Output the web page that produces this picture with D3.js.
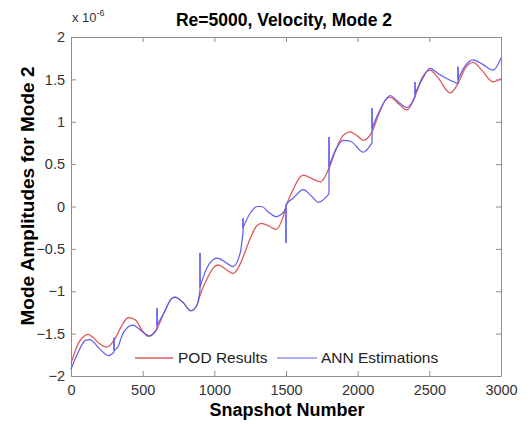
<!DOCTYPE html>
<html>
<head>
<meta charset="utf-8">
<script src="https://cdn.jsdelivr.net/npm/d3@7"></script>
<style>
  body { margin: 0; background: #fff; }
  svg { font-family: Arial, "Liberation Sans", sans-serif; }
</style>
</head>
<body>
<div class="chart"></div>
<script>
// POD results (red), values in units of 1e-6
var podSnap = [0, 50, 100, 120, 150, 200, 250, 300, 350, 400, 450, 500, 537, 600, 650, 700, 726, 780, 837, 880,
  900, 950, 1000, 1026, 1080, 1130, 1180, 1200, 1250, 1300, 1330, 1380, 1430, 1480, 1500, 1550, 1600, 1620, 1680,
  1740, 1800, 1850, 1900, 1947, 2000, 2040, 2100, 2150, 2200, 2226, 2280, 2345, 2400, 2450, 2505, 2560, 2645,
  2700, 2750, 2805, 2870, 2945, 3000];
var podVal = [-1.85, -1.62, -1.52, -1.51, -1.54, -1.62, -1.66, -1.58, -1.42, -1.31, -1.34, -1.47, -1.53, -1.44,
  -1.25, -1.09, -1.07, -1.13, -1.23, -1.16, -1.05, -0.85, -0.71, -0.69, -0.74, -0.79, -0.68, -0.6, -0.38, -0.22,
  -0.2, -0.23, -0.27, -0.12, 0.0, 0.2, 0.35, 0.37, 0.33, 0.29, 0.45, 0.68, 0.84, 0.88, 0.83, 0.78, 0.88, 1.1,
  1.27, 1.29, 1.22, 1.14, 1.3, 1.52, 1.61, 1.52, 1.34, 1.45, 1.63, 1.70, 1.6, 1.47, 1.51];

// ANN estimations (blue); repeated snapshot = jump at a block boundary
var annSnap = [0, 50, 100, 130, 200, 260, 300, 300, 300, 330, 350, 400, 430, 500, 550, 600, 600, 600, 650, 700,
  726, 780, 837, 880, 900, 900, 900, 950, 1020, 1080, 1130, 1180, 1200, 1200, 1200, 1250, 1300, 1330, 1380,
  1430, 1480, 1500, 1500, 1500, 1550, 1620, 1680, 1725, 1800, 1800, 1800, 1850, 1900, 1950, 2040, 2070,
  2100, 2100, 2100, 2150, 2200, 2226, 2280, 2345, 2400, 2400, 2400, 2450, 2505, 2560, 2645, 2700, 2700, 2700,
  2750, 2805, 2870, 2945, 3000];
var annVal = [-1.92, -1.72, -1.58, -1.57, -1.68, -1.76, -1.72, -1.55, -1.70, -1.65, -1.55, -1.42, -1.40, -1.48,
  -1.53, -1.45, -1.20, -1.40, -1.25, -1.09, -1.07, -1.13, -1.23, -1.16, -0.99, -0.55, -0.95, -0.72, -0.61,
  -0.66, -0.71, -0.55, -0.31, -0.14, -0.25, -0.08, 0.0, 0.0, -0.07, -0.12, -0.07, -0.02, -0.43, 0.03, 0.1,
  0.2, 0.12, 0.05, 0.15, 0.82, 0.47, 0.68, 0.78, 0.77, 0.64, 0.68, 0.75, 1.16, 0.92, 1.12, 1.27, 1.31, 1.24,
  1.17, 1.29, 1.47, 1.33, 1.5, 1.63, 1.57, 1.49, 1.45, 1.65, 1.5, 1.66, 1.73, 1.68, 1.61, 1.75];

var xTicks = [0, 500, 1000, 1500, 2000, 2500, 3000];
var yTicks = [-2, -1.5, -1, -0.5, 0, 0.5, 1, 1.5, 2];

var w = 529, h = 424;
var padL = 71, padR = 501, padT = 37, padB = 376;
var redColor = "#de5a5a", blueColor = "#5c5cf0", boxColor = "#8c8c8c";

var svg = d3.select(".chart")
            .append("svg")
            .attr("width", w)
            .attr("height", h);

var x = d3.scaleLinear().domain([0, 3000]).range([padL, padR]);
var y = d3.scaleLinear().domain([-2, 2]).range([padB, padT]);

// box with inward ticks on all four sides
function axisStyle(g){
  g.select(".domain").attr("stroke", boxColor);
  g.selectAll(".tick line").attr("stroke", boxColor);
  g.selectAll(".tick text").attr("fill", "#333").style("font-size", "14.5px");
}

svg.append("g")
    .attr("transform", "translate(0," + padB + ")")
    .call(d3.axisBottom(x).tickValues(xTicks).tickSize(-5).tickSizeOuter(0).tickPadding(9).tickFormat(d3.format("d")))
    .call(axisStyle);

svg.append("g")
    .attr("transform", "translate(0," + padT + ")")
    .call(d3.axisTop(x).tickValues(xTicks).tickSize(-5).tickSizeOuter(0).tickFormat(""))
    .call(axisStyle);

svg.append("g")
    .attr("transform", "translate(" + padL + ",0)")
    .call(d3.axisLeft(y).tickValues(yTicks).tickSize(-5).tickSizeOuter(0).tickPadding(6).tickFormat(d3.format("")))
    .call(axisStyle);

svg.append("g")
    .attr("transform", "translate(" + padR + ",0)")
    .call(d3.axisRight(y).tickValues(yTicks).tickSize(-5).tickSizeOuter(0).tickFormat(""))
    .call(axisStyle);

// POD line
var pod = podSnap.map(function(d, i){ return [d, podVal[i]]; });
var line = d3.line()
             .x(function(d){ return x(d[0]); })
             .y(function(d){ return y(d[1]); })
             .curve(d3.curveMonotoneX);

svg.append("path")
    .datum(pod)
    .attr("fill", "none")
    .attr("stroke", redColor)
    .attr("stroke-width", 1.3)
    .attr("d", line);

// ANN line: smooth runs, straight jumps where the snapshot repeats
var ann = annSnap.map(function(d, i){ return [d, annVal[i]]; });
var runs = [], cur = [], jumps = [];
ann.forEach(function(p, i){
  if(i > 0 && p[0] === ann[i - 1][0]){
    jumps.push([ann[i - 1], p]);
    if(cur.length > 1) runs.push(cur);
    cur = [];
  }
  cur.push(p);
});
if(cur.length > 1) runs.push(cur);

var annG = svg.append("g")
              .attr("fill", "none")
              .attr("stroke", blueColor)
              .attr("stroke-width", 1.2);

annG.selectAll("path.run")
    .data(runs)
    .join("path")
      .attr("class", "run")
      .attr("d", line);

annG.selectAll("path.jump")
    .data(jumps)
    .join("path")
      .attr("class", "jump")
      .attr("d", d3.line().x(function(d){ return x(d[0]); }).y(function(d){ return y(d[1]); }));

// legend
var legend = svg.append("g").style("font-size", "15.5px").attr("fill", "#222");
legend.append("line").attr("x1", 135).attr("x2", 173).attr("y1", 358).attr("y2", 358)
      .attr("stroke", redColor).attr("stroke-width", 1.3);
legend.append("text").attr("x", 178).attr("y", 363).text("POD Results");
legend.append("line").attr("x1", 277).attr("x2", 317).attr("y1", 358).attr("y2", 358)
      .attr("stroke", blueColor).attr("stroke-width", 1.2);
legend.append("text").attr("x", 321).attr("y", 363).text("ANN Estimations");

// titles
svg.append("text")
    .attr("x", 284).attr("y", 26)
    .attr("text-anchor", "middle")
    .style("font-size", "17.5px").style("font-weight", "bold")
    .text("Re=5000, Velocity, Mode 2");

svg.append("text")
    .attr("x", 287).attr("y", 416)
    .attr("text-anchor", "middle")
    .style("font-size", "18px").style("font-weight", "bold")
    .text("Snapshot Number");

svg.append("text")
    .attr("transform", "translate(34,196) rotate(-90)")
    .attr("text-anchor", "middle")
    .style("font-size", "19px").style("font-weight", "bold")
    .text("Mode Amplitudes for Mode 2");

// exponent label
var expo = svg.append("text").attr("x", 72).attr("y", 22).attr("fill", "#333").style("font-size", "13px");
expo.append("tspan").text("x 10");
expo.append("tspan").attr("dy", -6).style("font-size", "9px").text("-6");
</script>
</body>
</html>
